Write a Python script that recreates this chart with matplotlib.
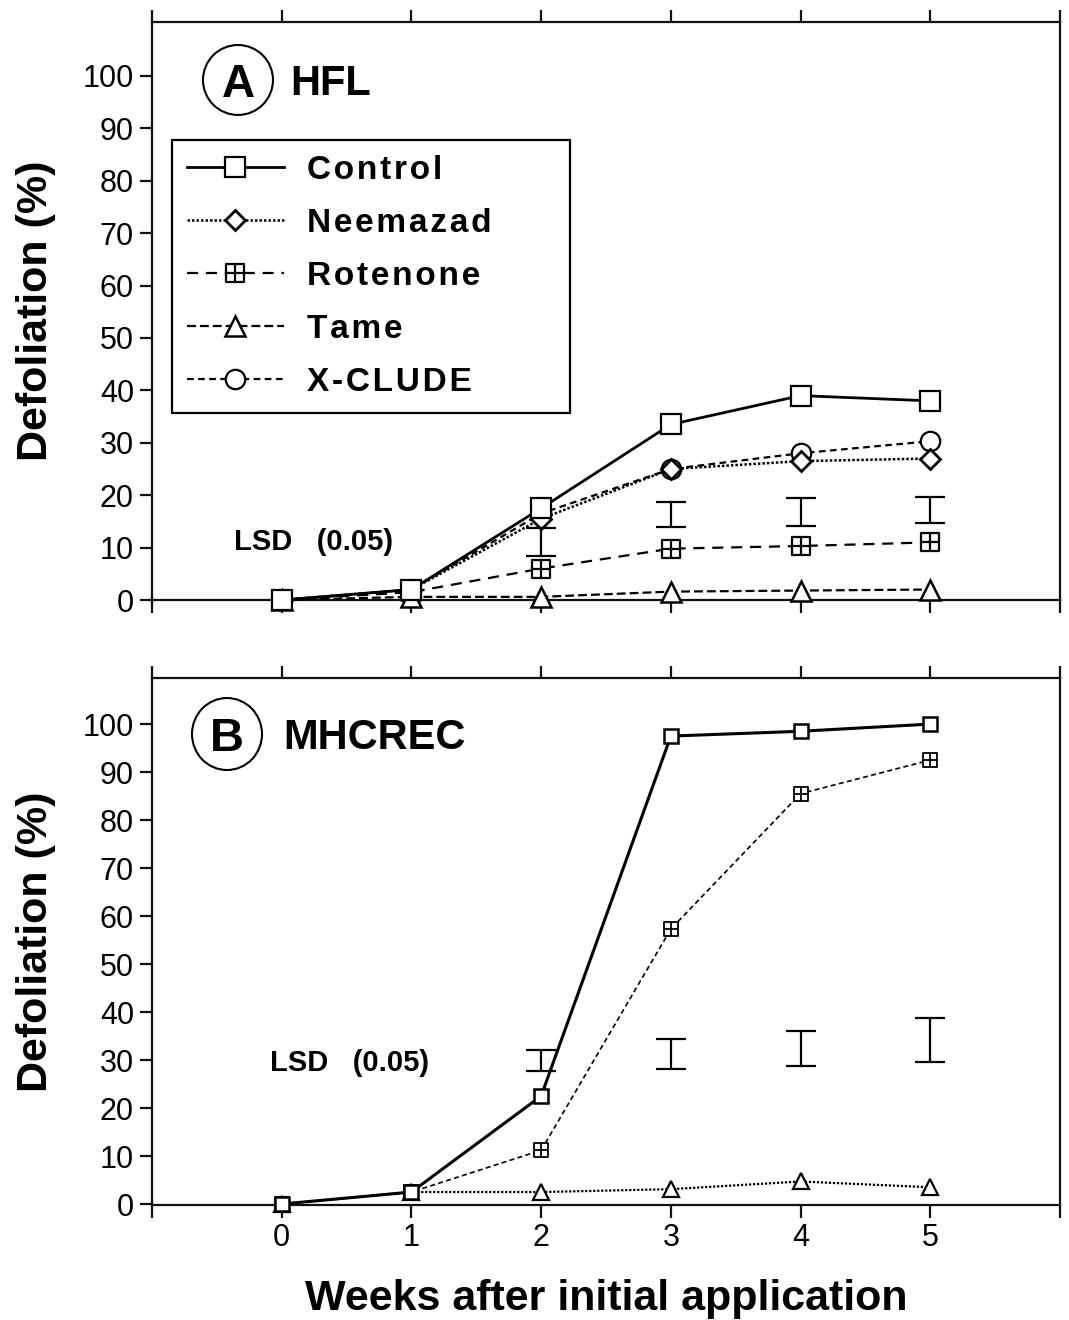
import numpy as np
import matplotlib
matplotlib.use("Agg")
import matplotlib.pyplot as plt
from matplotlib.path import Path
from matplotlib.patches import Ellipse

plt.rcParams['font.family'] = ['Liberation Sans', 'DejaVu Sans']

# ---------------- data ----------------
weeks = [0, 1, 2, 3, 4, 5]

# Panel A (HFL)
a_control = [0, 2, 17.5, 33.5, 39, 38]
a_neemazad = [0, 2, 15.5, 25, 26.5, 27]
a_rotenone = [0, 1.5, 6, 9.8, 10.3, 11]
a_tame = [0, 0.6, 0.6, 1.6, 1.8, 2]
a_xclude = [0, 2, 16.5, 25, 28, 30.3]
a_lsd_x = [2, 3, 4, 5]
a_lsd_lo = [8.4, 13.9, 14.1, 14.7]
a_lsd_hi = [13.7, 18.7, 19.5, 19.7]

# Panel B (MHCREC)
b_control = [0, 2.5, 22.5, 97.5, 98.5, 100]
b_rotenone = [0, 2.5, 11.2, 57.3, 85.5, 92.5]
b_tame = [0, 2.5, 2.5, 3.1, 4.7, 3.5]
b_lsd_x = [2, 3, 4, 5]
b_lsd_lo = [27.7, 28.2, 28.8, 29.5]
b_lsd_hi = [32.1, 34.3, 36.0, 38.7]

series_names = ['Control', 'Neemazad', 'Rotenone', 'Tame', 'X-CLUDE']
yticks = list(range(0, 101, 10))
xticks_all = [-1, 0, 1, 2, 3, 4, 5, 6]

def spaced(s):
    # slight letter spacing as in the original legend
    return '\u200a'.join(s)

# ---------------- markers ----------------
sqcross = Path([(-1, -1), (1, -1), (1, 1), (-1, 1), (-1, -1),
                (0, -1), (0, 1), (-1, 0), (1, 0)],
               [Path.MOVETO, Path.LINETO, Path.LINETO, Path.LINETO, Path.CLOSEPOLY,
                Path.MOVETO, Path.LINETO, Path.MOVETO, Path.LINETO])

fig = plt.figure(figsize=(10.69, 13.2), dpi=100)
W, H = 1069, 1320

def px_axes(left, top, right, bottom):
    return fig.add_axes([left / W, 1 - bottom / H, (right - left) / W, (bottom - top) / H])

axA = px_axes(152, 22, 1060, 600)
axB = px_axes(152, 678, 1060, 1205)

def style_axes(ax, ylim, bottom_labels=True):
    ax.set_xlim(-1.0, 5.985)
    ax.set_ylim(*ylim)
    for s in ax.spines.values():
        s.set_linewidth(1.6)
        s.set_color('#111111')
    ax.set_yticks(yticks)
    ax.set_yticklabels([str(v) for v in yticks], fontsize=22)
    ax.set_xticks(xticks_all)
    ax.set_xticklabels(['' if (t < 0 or t > 5) else str(t) for t in xticks_all], fontsize=22)
    ax.tick_params(axis='both', direction='out', length=9, width=1.6, color='#111111', pad=4)
    ax.tick_params(axis='x', top=True, bottom=True, labelbottom=bottom_labels, labeltop=False)
    ax.tick_params(axis='y', right=False)

style_axes(axA, (0, 110.3), bottom_labels=False)
style_axes(axB, (-0.2, 109.6), bottom_labels=True)

k = 'black'
# ---- Panel A lines ----
lA = []
lA.append(axA.plot(weeks, a_control, color=k, lw=2.0, ls='-', marker='s', ms=14,
                   mfc='white', mec=k, mew=1.6, zorder=6, clip_on=False,
                   label=spaced(series_names[0]))[0])
lA.append(axA.plot(weeks, a_neemazad, color=k, lw=1.8, ls=(0, (1, 0.8)), marker='D', ms=10,
                   mfc='white', mec=k, mew=2.0, zorder=5, clip_on=False,
                   label=spaced(series_names[1]))[0])
lA.append(axA.plot(weeks, a_rotenone, color=k, lw=1.6, ls=(0, (5, 3.5)), marker=sqcross, ms=13,
                   mfc='white', mec=k, mew=1.6, zorder=5, clip_on=False,
                   label=spaced(series_names[2]))[0])
lA.append(axA.plot(weeks, a_tame, color=k, lw=1.6, ls=(0, (4, 1.8)), marker='^', ms=15,
                   mfc='white', mec=k, mew=1.8, zorder=5, clip_on=False,
                   label=spaced(series_names[3]))[0])
lA.append(axA.plot(weeks, a_xclude, color=k, lw=1.6, ls=(0, (3, 2)), marker='o', ms=14,
                   mfc='white', mec=k, mew=1.6, zorder=4, clip_on=False,
                   label=spaced(series_names[4]))[0])

a_mid = [(lo + hi) / 2 for lo, hi in zip(a_lsd_lo, a_lsd_hi)]
a_err = [(hi - lo) / 2 for lo, hi in zip(a_lsd_lo, a_lsd_hi)]
axA.errorbar(a_lsd_x, a_mid, yerr=a_err, fmt='none', ecolor=k, elinewidth=1.6,
             capsize=10.5, capthick=1.6, zorder=7)
axA.text(-0.37, 11.1, 'LSD   (0.05)', fontsize=21, fontweight='bold', ha='left', va='center')

legw = (570 - 172) / 908
leg = axA.legend(handles=lA, loc='upper left', bbox_to_anchor=(0.022, 0.796 - 0.5, legw, 0.5),
                 mode='expand', borderaxespad=0, prop={'weight': 'bold', 'size': 24},
                 handlelength=2.9, handletextpad=0.7, labelspacing=0.66,
                 borderpad=0.45, fancybox=False, edgecolor=k, framealpha=1)
leg.get_frame().set_linewidth(1.6)

axA.add_patch(Ellipse((0.0947, 0.8997), 0.0771, 0.121, transform=axA.transAxes,
                      fill=False, lw=1.5, ec=k))
axA.text(0.0947, 0.8997, 'A', transform=axA.transAxes, fontsize=33, fontweight='bold',
         ha='center', va='center_baseline')
axA.text(0.152, 0.8997, 'HFL', transform=axA.transAxes, fontsize=30, fontweight='bold',
         ha='left', va='center_baseline')

# ---- Panel B lines ----
axB.plot(weeks, b_control, color=k, lw=2.2, ls='-', marker='s', ms=10,
         mfc='white', mec=k, mew=1.8, zorder=6, clip_on=False)
axB.plot(weeks, b_rotenone, color=k, lw=1.2, ls=(0, (3, 2)), marker=sqcross, ms=10,
         mfc='white', mec=k, mew=1.3, zorder=5, clip_on=False)
axB.plot(weeks, b_tame, color=k, lw=1.6, ls=(0, (1, 0.8)), marker='^', ms=11,
         mfc='white', mec=k, mew=1.6, zorder=5, clip_on=False)

b_mid = [(lo + hi) / 2 for lo, hi in zip(b_lsd_lo, b_lsd_hi)]
b_err = [(hi - lo) / 2 for lo, hi in zip(b_lsd_lo, b_lsd_hi)]
axB.errorbar(b_lsd_x, b_mid, yerr=b_err, fmt='none', ecolor=k, elinewidth=1.6,
             capsize=10.5, capthick=1.6, zorder=7)
axB.text(-0.09, 29.4, 'LSD   (0.05)', fontsize=21, fontweight='bold', ha='left', va='center')

axB.add_patch(Ellipse((0.0826, 0.8937), 0.0771, 0.1366, transform=axB.transAxes,
                      fill=False, lw=1.5, ec=k))
axB.text(0.0826, 0.8937, 'B', transform=axB.transAxes, fontsize=34, fontweight='bold',
         ha='center', va='center_baseline')
axB.text(0.144, 0.8956, 'MHCREC', transform=axB.transAxes, fontsize=30, fontweight='bold',
         ha='left', va='center_baseline')

for ax in (axA, axB):
    ax.set_ylabel('Defoliation (%)', fontsize=31, fontweight='bold')
    ax.yaxis.set_label_coords(-0.106, 0.5)

axB.set_xlabel('Weeks after initial application', fontsize=31, fontweight='bold')
axB.xaxis.set_label_coords(0.5, -0.14)

fig.savefig('out.png', dpi=100)
